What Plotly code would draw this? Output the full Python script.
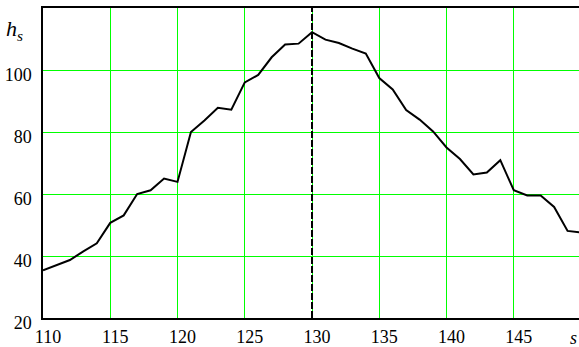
import plotly.graph_objects as go

s_vals = list(range(110, 151))
h_vals = [35.4, 37.0, 38.7, 41.5, 44.1, 50.7, 53.1, 60.0, 61.2, 65.0,
          63.9, 80.0, 83.7, 87.8, 87.2, 96.0, 98.4, 104.1, 108.2, 108.5,
          112.2, 109.8, 108.7, 106.9, 105.3, 97.4, 93.7, 87.1, 84.0, 80.2,
          75.0, 71.3, 66.3, 66.9, 70.9, 61.2, 59.5, 59.5, 55.8, 48.1, 47.6]
marker_s = 130
x_ticks = [110, 115, 120, 125, 130, 135, 140, 145]
y_ticks = [20, 40, 60, 80, 100]

font = dict(family='"Liberation Serif", "Times New Roman", serif', size=18, color="black")

fig = go.Figure()
fig.add_trace(go.Scatter(x=s_vals, y=h_vals, mode="lines",
                         line=dict(color="black", width=2), showlegend=False))
fig.add_trace(go.Scatter(x=[marker_s, marker_s], y=[20, 120], mode="lines",
                         line=dict(color="black", width=2, dash="7px,2px"),
                         showlegend=False))

fig.update_layout(
    width=579, height=347,
    margin=dict(l=43, r=0, t=8, b=24),
    paper_bgcolor="white", plot_bgcolor="white",
    font=font,
    xaxis=dict(range=[110, 149.85], tickvals=x_ticks, showgrid=True,
               gridcolor="#00ff00", gridwidth=1, showline=True, linecolor="black",
               linewidth=1.5, mirror=True, zeroline=False, ticks="",
               ticklabelshift=5, ticklabelstandoff=2, tickfont=font),
    yaxis=dict(range=[20, 120], tickvals=y_ticks, showgrid=True,
               gridcolor="#00ff00", gridwidth=1, showline=True, linecolor="black",
               linewidth=1.5, zeroline=False, ticks="", ticklabelshift=5,
               ticklabelstandoff=6, tickfont=font),
    annotations=[
        dict(text="<i>h</i><sub><i>s</i></sub>", xref="paper", yref="paper",
             x=-0.072, y=0.93, xanchor="left", yanchor="middle",
             showarrow=False, font=dict(family='"Liberation Serif", serif', size=22, color="black")),
        dict(text="<i>s</i>", xref="paper", yref="paper", x=1.0, y=-0.025,
             xanchor="right", yanchor="top", showarrow=False,
             font=dict(family='"Liberation Serif", serif', size=18, color="black")),
    ],
)

fig.write_html("out.html", config={"displayModeBar": False},
               post_script="document.body.style.margin='0';document.body.style.overflow='hidden';")
